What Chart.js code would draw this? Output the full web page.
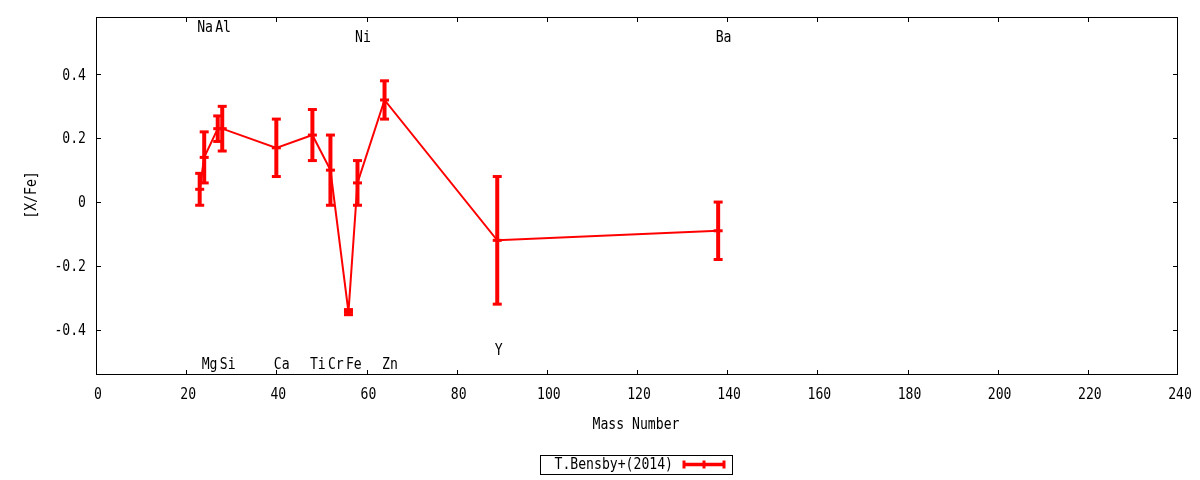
<!DOCTYPE html>
<html>
<head>
<meta charset="utf-8">
<script src="https://cdn.jsdelivr.net/npm/chart.js@4.4.1/dist/chart.umd.min.js"></script>
<style>
  html, body { margin: 0; padding: 0; background: #fff; }
</style>
</head>
<body>
<canvas id="chart" width="1200" height="480"></canvas>
<script>
// abundance pattern, one entry per element
const elements = ['Na', 'Mg', 'Al', 'Si', 'Ca', 'Ti', 'Cr', 'Fe', 'Ni', 'Zn', 'Y', 'Ba'];
const massNumbers = [23, 24, 27, 28, 40, 48, 52, 56, 58, 64, 89, 138];
const abundances = [0.04, 0.14, 0.23, 0.23, 0.17, 0.21, 0.10, -0.345, 0.06, 0.32, -0.12, -0.09];
const errors = [0.05, 0.08, 0.04, 0.07, 0.09, 0.08, 0.11, 0.008, 0.07, 0.06, 0.20, 0.09];
// where each element name sits, in [X/Fe] units
const labelRows = [0.547, -0.51, 0.547, -0.51, -0.51, -0.51, -0.51, -0.51, 0.515, -0.51, -0.466, 0.515];

const xTicks = [0, 20, 40, 60, 80, 100, 120, 140, 160, 180, 200, 220, 240];
const yTicks = [-0.4, -0.2, 0, 0.2, 0.4];
const seriesName = 'T.Bensby+(2014)';

const FONT = '16px "DejaVu Sans Mono", monospace';
const RED = '#ff0000';

// gnuplot's terminal font is tall and narrow, squeeze the glyphs sideways
function txt(ctx, s, x, y, align) {
    ctx.save();
    ctx.translate(x, y);
    ctx.scale(0.82, 1);
    ctx.textAlign = align;
    ctx.fillText(s, 0, 0);
    ctx.restore();
}

function errorBar(ctx, px, top, mid, bot, cap) {
    ctx.lineWidth = 4;
    ctx.beginPath();
    ctx.moveTo(px, top);
    ctx.lineTo(px, bot);
    ctx.stroke();
    ctx.lineWidth = 3;
    for (const py of [top, mid, bot]) {
        ctx.beginPath();
        ctx.moveTo(px - cap, py);
        ctx.lineTo(px + cap, py);
        ctx.stroke();
    }
}

// frame, inward ticks, tick labels, error bars, element names, titles and key
const gnuplotLook = {
    id: 'gnuplotLook',
    afterDatasetsDraw(chart) {
        const { ctx, chartArea: a, scales: { x, y } } = chart;
        ctx.save();

        ctx.strokeStyle = '#000';
        ctx.lineWidth = 1;
        ctx.strokeRect(a.left + 0.5, a.top + 0.5, a.right - a.left - 1, a.bottom - a.top - 1);
        ctx.beginPath();
        for (const v of xTicks) {
            const px = Math.min(Math.round(x.getPixelForValue(v)), a.right - 1) + 0.5;
            ctx.moveTo(px, a.bottom); ctx.lineTo(px, a.bottom - 5);
            ctx.moveTo(px, a.top); ctx.lineTo(px, a.top + 5);
        }
        for (const v of yTicks) {
            const py = Math.round(y.getPixelForValue(v)) + 0.5;
            ctx.moveTo(a.left, py); ctx.lineTo(a.left + 5, py);
            ctx.moveTo(a.right, py); ctx.lineTo(a.right - 5, py);
        }
        ctx.stroke();

        ctx.strokeStyle = RED;
        massNumbers.forEach((m, i) => {
            errorBar(ctx,
                x.getPixelForValue(m),
                y.getPixelForValue(abundances[i] + errors[i]),
                y.getPixelForValue(abundances[i]),
                y.getPixelForValue(abundances[i] - errors[i]),
                4.5);
        });

        ctx.fillStyle = '#000';
        ctx.font = FONT;
        ctx.textBaseline = 'middle';

        for (const v of xTicks) txt(ctx, String(v), x.getPixelForValue(v) + 2, 395, 'center');
        for (const v of yTicks) txt(ctx, String(v), 86, y.getPixelForValue(v) + 1, 'right');

        elements.forEach((el, i) => {
            txt(ctx, el, x.getPixelForValue(massNumbers[i]) - 2.5, y.getPixelForValue(labelRows[i]), 'left');
        });

        txt(ctx, 'Mass Number', (a.left + a.right) / 2 - 1, 425, 'center');
        ctx.save();
        ctx.translate(32, 195);
        ctx.rotate(-Math.PI / 2);
        txt(ctx, '[X/Fe]', 0, 0, 'center');
        ctx.restore();

        // key box
        ctx.strokeStyle = '#000';
        ctx.lineWidth = 1;
        ctx.strokeRect(540.5, 455.5, 192, 19);
        txt(ctx, seriesName, 673, 465, 'right');
        ctx.strokeStyle = RED;
        ctx.lineWidth = 3.5;
        ctx.beginPath();
        ctx.moveTo(683, 464.5);
        ctx.lineTo(725, 464.5);
        ctx.stroke();
        ctx.lineWidth = 3;
        ctx.beginPath();
        for (const px of [684, 704, 724]) {
            ctx.moveTo(px, 460.5);
            ctx.lineTo(px, 468.5);
        }
        ctx.stroke();

        ctx.restore();
    }
};

new Chart(document.getElementById('chart'), {
    type: 'line',
    data: {
        datasets: [{
            label: seriesName,
            data: massNumbers.map((m, i) => ({ x: m, y: abundances[i] })),
            borderColor: RED,
            borderWidth: 2,
            pointRadius: 0,
            tension: 0,
            fill: false
        }]
    },
    options: {
        responsive: false,
        animation: false,
        layout: { padding: { top: 17, right: 22, left: 0, bottom: 0 } },
        plugins: { legend: { display: false }, tooltip: { enabled: false } },
        scales: {
            x: {
                type: 'linear',
                min: 0,
                max: 240,
                afterBuildTicks: s => { s.ticks = xTicks.map(v => ({ value: v })); },
                afterFit: s => { s.height = 105; },
                grid: { display: false, drawTicks: false },
                border: { display: false },
                ticks: { display: false }
            },
            y: {
                type: 'linear',
                min: -0.542,
                max: 0.58,
                afterBuildTicks: s => { s.ticks = yTicks.map(v => ({ value: v })); },
                afterFit: s => { s.width = 96; },
                grid: { display: false, drawTicks: false },
                border: { display: false },
                ticks: { display: false }
            }
        }
    },
    plugins: [gnuplotLook]
});
</script>
</body>
</html>
